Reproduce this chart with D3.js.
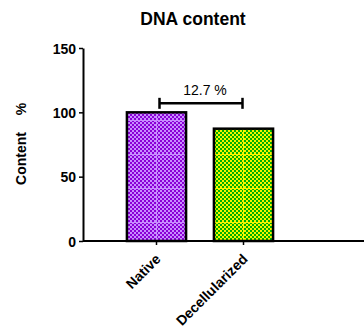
<!DOCTYPE html>
<html>
<head>
<meta charset="utf-8">
<script src="https://cdn.jsdelivr.net/npm/d3@7"></script>
<style>
  body { margin: 0; background: #fff; }
  text { font-family: "Liberation Sans", Arial, sans-serif; }
</style>
</head>
<body>
<svg id="drawing_region"></svg>
<script>
const categories = ['Native', 'Decellularized'];
const values = [100, 87.3];
const y_ticks = [0, 50, 100, 150];
const bracket_value = 107;
const bracket_label = '12.7 %';
const dark_colors = ['#8a00d6', '#00b000'];
const light_colors = ['#c88cff', '#f5f500'];

const width = 364, height = 334;
const svg = d3.select('#drawing_region')
    .attr('width', width)
    .attr('height', height);

const xscale = d3.scaleBand()
    .domain(categories)
    .range([113, 287])
    .paddingInner(0.32)
    .paddingOuter(0.16);

const yscale = d3.scaleLinear()
    .domain([0, 150])
    .range([241, 48]);

// checker patterns
const defs = svg.append('defs');
categories.forEach((c, i) => {
    const p = defs.append('pattern')
        .attr('id', 'chk' + i)
        .attr('patternUnits', 'userSpaceOnUse')
        .attr('width', 4).attr('height', 4);
    p.append('rect').attr('width', 4).attr('height', 4).attr('fill', light_colors[i]);
    p.append('rect').attr('width', 2).attr('height', 2).attr('fill', dark_colors[i]);
    p.append('rect').attr('x', 2).attr('y', 2).attr('width', 2).attr('height', 2).attr('fill', dark_colors[i]);

    const g = defs.append('pattern')
        .attr('id', 'grid' + i)
        .attr('patternUnits', 'userSpaceOnUse')
        .attr('x', xscale(c) + xscale.bandwidth() / 2 - 0.5)
        .attr('y', 18)
        .attr('width', 87).attr('height', 34);
    g.append('rect').attr('width', 1).attr('height', 34).attr('fill', light_colors[i]);
    g.append('rect').attr('width', 87).attr('height', 1).attr('fill', light_colors[i]);
});

// bars
svg.selectAll('rect.bar')
    .data(categories)
    .join('rect')
    .attr('class', 'bar')
    .attr('x', d => xscale(d))
    .attr('y', (d, i) => yscale(values[i]))
    .attr('width', xscale.bandwidth())
    .attr('height', (d, i) => yscale(0) - yscale(values[i]))
    .attr('fill', (d, i) => `url(#chk${i})`);

svg.selectAll('rect.grid')
    .data(categories)
    .join('rect')
    .attr('class', 'grid')
    .attr('x', d => xscale(d))
    .attr('y', (d, i) => yscale(values[i]))
    .attr('width', xscale.bandwidth())
    .attr('height', (d, i) => yscale(0) - yscale(values[i]))
    .attr('fill', (d, i) => `url(#grid${i})`);

svg.selectAll('rect.outline')
    .data(categories)
    .join('rect')
    .attr('class', 'outline')
    .attr('x', d => xscale(d))
    .attr('y', (d, i) => yscale(values[i]))
    .attr('width', xscale.bandwidth())
    .attr('height', (d, i) => yscale(0) - yscale(values[i]))
    .attr('fill', 'none')
    .attr('stroke', '#000')
    .attr('stroke-width', 2.5);

// y axis
const yaxis = d3.axisLeft(yscale)
    .tickValues(y_ticks)
    .tickSize(4)
    .tickPadding(3)
    .tickSizeOuter(0);
const yg = svg.append('g')
    .attr('transform', 'translate(83,0)')
    .call(yaxis);
yg.select('.domain').attr('stroke-width', 2);
yg.selectAll('.tick line').attr('stroke-width', 1.5);
yg.selectAll('.tick text')
    .attr('font-family', '"Liberation Sans", Arial, sans-serif')
    .attr('font-size', 14).attr('font-weight', 'bold').attr('fill', '#000')
    .attr('dy', '0.36em');

// x axis
const xaxis = d3.axisBottom(xscale)
    .tickSize(4)
    .tickSizeOuter(0);
const xg = svg.append('g')
    .attr('transform', `translate(0, ${yscale(0)})`)
    .call(xaxis);
xg.select('.domain').remove();
xg.append('line')
    .attr('x1', 83).attr('x2', width)
    .attr('stroke', '#000').attr('stroke-width', 2);
xg.selectAll('.tick line').attr('stroke-width', 1.5);
xg.selectAll('.tick text')
    .attr('font-family', '"Liberation Sans", Arial, sans-serif')
    .attr('font-size', 14).attr('font-weight', 'bold').attr('fill', '#000')
    .attr('text-anchor', 'end')
    .attr('dy', null)
    .attr('y', 0)
    .attr('transform', 'translate(5, 19) rotate(-45)');

// bracket
const bx1 = xscale(categories[0]) + xscale.bandwidth() / 2 + 3;
const bx2 = xscale(categories[1]) + xscale.bandwidth() / 2 - 1;
const by = yscale(bracket_value);
const br = svg.append('g').attr('stroke', '#000').attr('stroke-width', 2.5);
br.append('line').attr('x1', bx1).attr('x2', bx2).attr('y1', by).attr('y2', by);
br.append('line').attr('x1', bx1).attr('x2', bx1).attr('y1', by - 5.5).attr('y2', by + 5.5);
br.append('line').attr('x1', bx2).attr('x2', bx2).attr('y1', by - 5.5).attr('y2', by + 5.5);
svg.append('text')
    .attr('x', (bx1 + bx2) / 2 + 4)
    .attr('y', by - 8)
    .attr('text-anchor', 'middle')
    .attr('font-size', 14)
    .text(bracket_label);

// title
svg.append('text')
    .attr('x', 193).attr('y', 25)
    .attr('text-anchor', 'middle')
    .attr('font-size', 17.5).attr('font-weight', 'bold')
    .text('DNA content');

// y label
svg.append('text')
    .attr('transform', 'translate(26, 158.5) rotate(-90)')
    .attr('text-anchor', 'middle')
    .attr('font-size', 14).attr('font-weight', 'bold')
    .text('Content');
svg.append('text')
    .attr('transform', 'translate(26, 109) rotate(-90)')
    .attr('text-anchor', 'middle')
    .attr('font-size', 14).attr('font-weight', 'bold')
    .text('%');
</script>
</body>
</html>
